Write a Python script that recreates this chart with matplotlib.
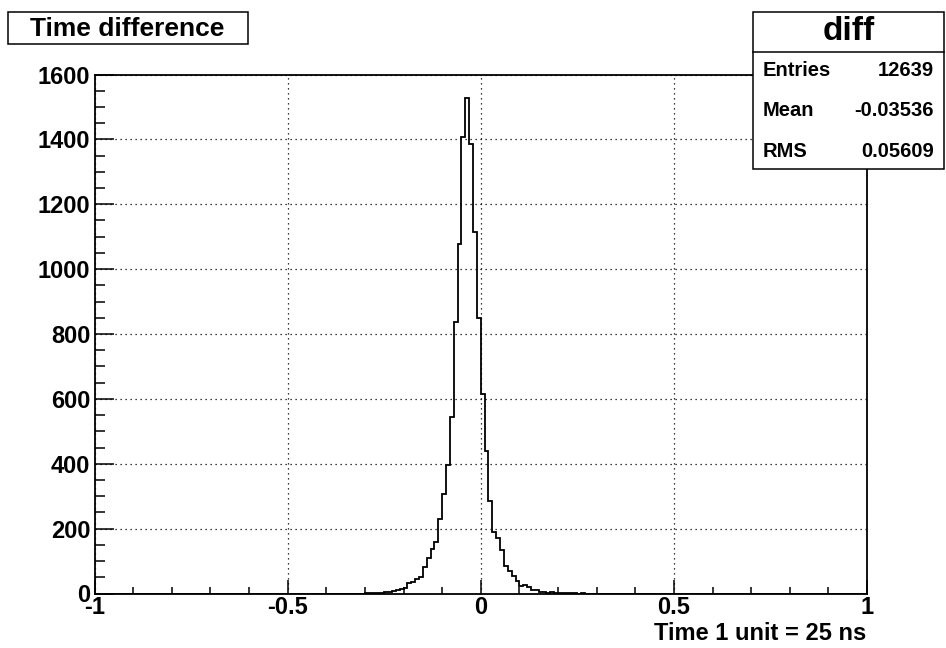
import numpy as np
import matplotlib
matplotlib.use("Agg")
import matplotlib.pyplot as plt
from matplotlib.patches import Rectangle
from matplotlib.ticker import MultipleLocator

# -----------------------------
# Histogram data
# -----------------------------
n_bins = 200
x_min, x_max = -1.0, 1.0
first_filled_bin = -0.30  # left edge of first listed bin
counts_nonzero = [
    1, 1, 2, 2, 3, 4, 6, 8, 10, 13,            # -0.30 .. -0.21
    17, 32, 34, 44, 51, 82, 108, 138, 159, 229,  # -0.20 .. -0.11
    308, 397, 544, 838, 1077, 1408, 1528, 1385, 1113, 848,  # -0.10 .. -0.01
    615, 439, 285, 190, 171, 133, 84, 69, 54, 37,  # 0.00 .. 0.09
    23, 27, 20, 11, 11, 6, 6, 3, 4, 2,             # 0.10 .. 0.19
    2, 1, 2, 1, 1, 0, 1, 0, 0, 0,                  # 0.20 .. 0.29
]
hist_title = "Time difference"
hist_name = "diff"
stat_labels = ["Entries", "Mean", "RMS"]
stat_values = ["12639", "-0.03536", "0.05609"]
x_label = "Time 1 unit = 25 ns"

edges = np.linspace(x_min, x_max, n_bins + 1)
counts = np.zeros(n_bins)
start = int(round((first_filled_bin - x_min) / (x_max - x_min) * n_bins))
counts[start:start + len(counts_nonzero)] = counts_nonzero

# -----------------------------
# Figure
# -----------------------------
W, H = 946, 648
plt.rcParams['font.family'] = ['Liberation Sans', 'DejaVu Sans']
plt.rcParams['font.weight'] = 'bold'

fig = plt.figure(figsize=(W / 100, H / 100), dpi=100)
ax = fig.add_axes([94.5 / W, 1 - 593.5 / H, (867 - 94.5) / W, (593.5 - 74.5) / H])

ax.stairs(counts, edges, color="black", linewidth=1.3)

ax.set_xlim(x_min, x_max)
ax.set_ylim(0, 1600)
ax.xaxis.set_major_locator(MultipleLocator(0.5))
ax.xaxis.set_minor_locator(MultipleLocator(0.1))
ax.yaxis.set_major_locator(MultipleLocator(200))
ax.yaxis.set_minor_locator(MultipleLocator(50))
ax.set_xticklabels([])
ax.set_xticks([-1, -0.5, 0, 0.5, 1])
ax.set_xticklabels(["-1", "-0.5", "0", "0.5", "1"])

ax.grid(True, which="major", linestyle=(0, (1, 3)), color="black", linewidth=0.9)
ax.tick_params(axis="both", which="both", direction="in", labelsize=17, width=1.1)
ax.tick_params(axis="x", which="major", length=10, pad=2)
ax.tick_params(axis="x", which="minor", length=5)
ax.tick_params(axis="y", which="major", length=14, pad=3)
ax.tick_params(axis="y", which="minor", length=7)
for lab in ax.get_xticklabels() + ax.get_yticklabels():
    lab.set_fontweight("bold")
for sp in ax.spines.values():
    sp.set_linewidth(1.3)


def fx(px):
    return px / W


def fy(py):
    return 1 - py / H


# x axis title, right aligned at the frame end
fig.text(fx(866), fy(634), x_label, ha="right", va="center", fontsize=17, fontweight="bold")

# title box
fig.add_artist(Rectangle((fx(7.5), fy(44)), fx(240), 32 / H, transform=fig.transFigure,
                         facecolor="white", edgecolor="black", linewidth=1.1, zorder=5))
fig.text(fx(127), fy(28.5), hist_title, ha="center", va="center", fontsize=19,
         fontweight="bold", zorder=6)

# stats box
bx0, bx1, by0, by1, bdiv = 752.5, 944, 11.5, 168.5, 51.5
fig.add_artist(Rectangle((fx(bx0), fy(by1)), fx(bx1 - bx0), (by1 - by0) / H,
                         transform=fig.transFigure, facecolor="white", edgecolor="black",
                         linewidth=1.1, zorder=5))
fig.add_artist(plt.Line2D([fx(bx0), fx(bx1)], [fy(bdiv), fy(bdiv)], transform=fig.transFigure,
                          color="black", linewidth=1.1, zorder=6))
fig.text(fx((bx0 + bx1) / 2), fy(32), hist_name, ha="center", va="center", fontsize=24,
         fontweight="bold", zorder=6)
row_y = [70, 111, 152]
for lab, val, ry in zip(stat_labels, stat_values, row_y):
    fig.text(fx(762.5), fy(ry), lab, ha="left", va="center", fontsize=14.5,
             fontweight="bold", zorder=6)
    fig.text(fx(934), fy(ry), val, ha="right", va="center", fontsize=14.5,
             fontweight="bold", zorder=6)

fig.savefig("out.png", dpi=100, facecolor="white")
